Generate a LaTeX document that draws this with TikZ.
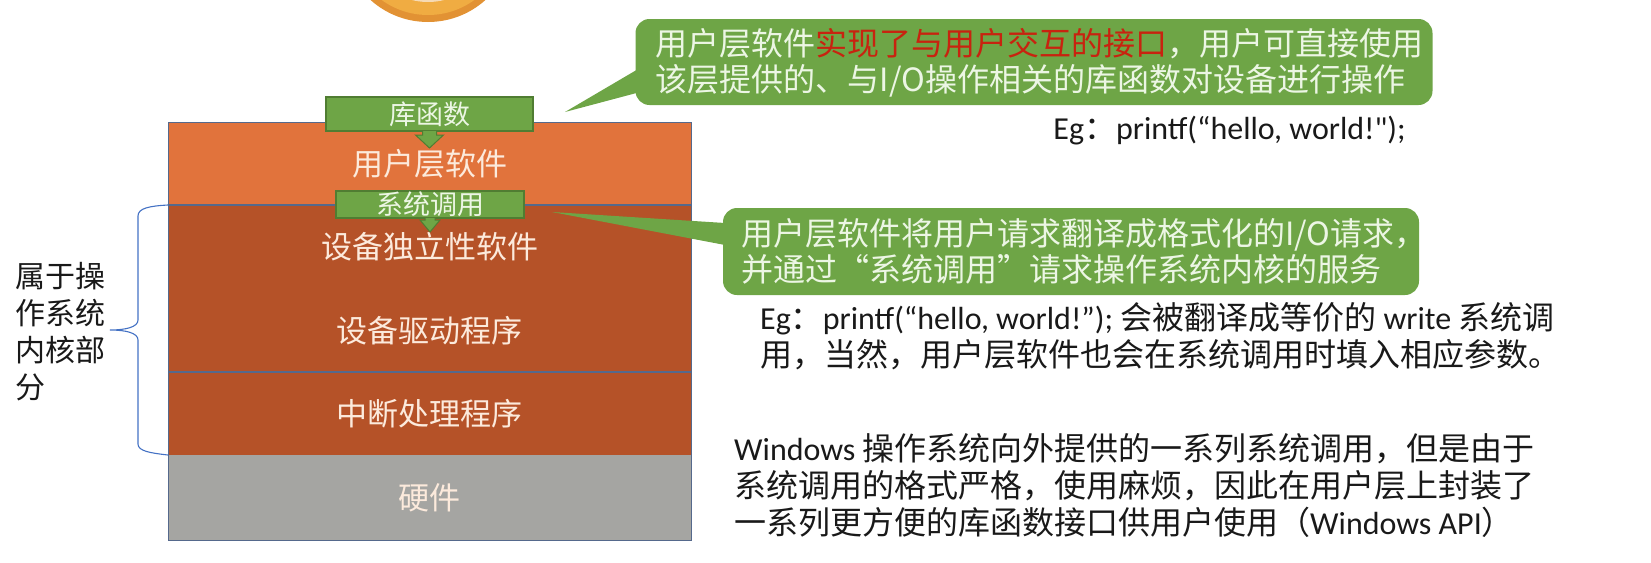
\documentclass[tikz,border=0pt]{standalone}
\usepackage{fontspec}
\setmainfont{Noto Sans CJK SC}
\newfontfamily\lat{Carlito}
\usetikzlibrary{calc}

\definecolor{userorange}{RGB}{225,115,60}
\definecolor{kernelbrown}{RGB}{181,82,40}
\definecolor{hwgray}{RGB}{165,165,162}
\definecolor{leafgreen}{RGB}{110,165,70}
\definecolor{greenedge}{RGB}{80,125,50}
\definecolor{frameblue}{RGB}{85,105,140}
\definecolor{bracecol}{RGB}{68,114,196}
\definecolor{layertext}{RGB}{252,234,220}
\definecolor{greentext}{RGB}{236,246,228}
\definecolor{hilite}{RGB}{200,35,15}
\definecolor{ink}{RGB}{25,25,25}
\definecolor{ringouter}{RGB}{226,146,52}
\definecolor{ringmid}{RGB}{240,172,66}
\definecolor{ringinner}{RGB}{246,218,180}

\tikzset{
  layer/.style={minimum width=523pt, inner sep=0pt, outer sep=0pt,
    text=layertext, font=\fontsize{31}{31}\selectfont},
  greenbox/.style={fill=leafgreen, draw=greenedge, line width=1.2pt,
    inner sep=0pt, outer sep=0pt, text=greentext},
  blockarrow/.style={fill=leafgreen, draw=greenedge, line width=1pt, line join=miter},
  bubble/.style={fill=leafgreen, rounded corners=14pt, inner sep=0pt, outer sep=0pt},
  bubbletext/.style={anchor=west, align=left, text=greentext, inner sep=0pt,
    font=\fontsize{32}{36}\selectfont},
  note/.style={anchor=west, align=left, text=ink, inner sep=0pt,
    font=\fontsize{32}{37}\selectfont},
  sepline/.style={draw=frameblue, line width=1.2pt},
}

\begin{document}
\begin{tikzpicture}[x=1pt,y=-1pt]
\useasboundingbox (0,0) rectangle (1651,562);

% partly visible badge at the top edge
\begin{scope}
  \clip (0,0) rectangle (1651,562);
  \fill[ringouter] (428,-64) circle (86);
  \fill[ringmid] (428,-64) circle (79);
  \fill[ringinner] (428,-64) circle (66);
\end{scope}

% layered I/O software stack
\node[layer, fill=userorange, minimum height=83pt] (user) at (429.5,163.5) {用户层软件};
\node[layer, fill=kernelbrown, minimum height=83.5pt] (indep) at (429.5,246.75) {设备独立性软件};
\node[layer, fill=kernelbrown, minimum height=83.5pt] (driver) at (429.5,330.25) {设备驱动程序};
\node[layer, fill=kernelbrown, minimum height=83pt] (irq) at (429.5,413.5) {中断处理程序};
\node[layer, fill=hwgray, minimum height=85pt] (hw) at (429.5,497.5) {硬件};
\draw[sepline] (user.south west) -- (user.south east);
\draw[sepline] (driver.south west) -- (driver.south east);
\draw[frameblue, line width=1pt] (user.north west) rectangle (hw.south east);

% interface labels with down arrows
\node[greenbox, minimum width=207pt, minimum height=34pt,
  font=\fontsize{27}{27}\selectfont] (lib) at (429.5,114) {库函数};
\draw[blockarrow] ($(lib.south)+(-7,0)$) -- ++(0,4) -- ++(-7,0)
  -- ($(lib.south)+(0,17)$) -- ($(lib.south)+(14,4)$) -- ++(-7,0) -- ($(lib.south)+(7,0)$);

\node[greenbox, minimum width=188pt, minimum height=27pt,
  font=\fontsize{27}{27}\selectfont] (sys) at (430,204.5) {系统调用};
\draw[blockarrow] ($(sys.south)+(-5,0)$) -- ++(0,2) -- ++(-5,0)
  -- ($(sys.south)+(0,14)$) -- ($(sys.south)+(10,2)$) -- ++(-5,0) -- ($(sys.south)+(5,0)$);

% brace marking the kernel layers
\draw[bracecol, line width=1.1pt]
  (indep.north west) .. controls (150,206) and (138,208) .. (138,216)
  -- (138,320) .. controls (138,327) and (126,330) .. (110,330)
  .. controls (126,330) and (138,333) .. (138,340)
  -- (138,444) .. controls (138,451) and (150,453) .. (irq.south west);
\node[note, font=\fontsize{30}{37}\selectfont] (kernellabel) at (15,332)
  {属于操\\作系统\\内核部\\分};

% callout for the user layer
\coordinate (tipA) at (565,112);
\node[bubble, minimum width=797pt, minimum height=86pt] (calloutA) at (1034,62) {};
\fill[leafgreen] ($(calloutA.south west)+(1,-35)$) -- (tipA) -- ($(calloutA.south west)+(1,-12)$) -- cycle;
\node[bubbletext] (textA) at ($(calloutA.west)+(20,1)$)
  {用户层软件\textcolor{hilite}{实现了与用户交互的接口}，用户可直接使用\\
   该层提供的、与I/O操作相关的库函数对设备进行操作};
\node[note, anchor=east] (egA) at (1406,131)
  {{\lat Eg}：{\lat printf(“hello, world!");}};

% callout for the system call
\coordinate (tipB) at (552,212);
\node[bubble, minimum width=696pt, minimum height=87pt] (calloutB) at (1071,251.5) {};
\fill[leafgreen] ($(calloutB.north west)+(2,15)$) -- (tipB) -- ($(calloutB.north west)+(2,37)$) -- cycle;
\node[bubbletext] (textB) at ($(calloutB.west)+(18,0)$)
  {用户层软件将用户请求翻译成格式化的I/O请求，\\
   并通过“系统调用”请求操作系统内核的服务};

\node[note] (egB) at (760,336)
  {{\lat Eg}：{\lat printf(“hello, world!”);} 会被翻译成等价的 {\lat write} 系统调\\
   用，当然，用户层软件也会在系统调用时填入相应参数。};

% note on the Windows API
\node[note] (winnote) at (734,486)
  {{\lat Windows} 操作系统向外提供的一系列系统调用，但是由于\\
   系统调用的格式严格，使用麻烦，因此在用户层上封装了\\
   一系列更方便的库函数接口供用户使用（{\lat Windows API}）};
\end{tikzpicture}
\end{document}
